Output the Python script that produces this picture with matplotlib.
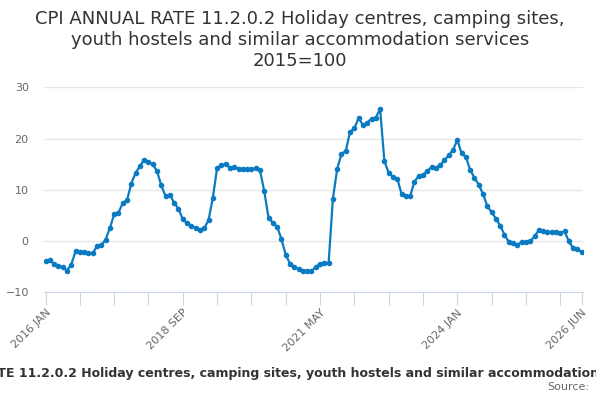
import numpy as np
import matplotlib
matplotlib.use('Agg')
import matplotlib.pyplot as plt
from matplotlib.transforms import Bbox, TransformedBbox

# Monthly annual rate, 2016 JAN .. 2026 JUN (126 months)
rate = [
    -3.9, -3.7, -4.5, -4.8, -5.1, -5.75, -4.6, -2.0, -2.1, -2.1,
    -2.3, -2.4, -1.0, -0.85, 0.3, 2.5, 5.2, 5.5, 7.4, 8.0,
    11.2, 13.3, 14.6, 15.9, 15.4, 15.0, 13.6, 10.85, 8.7, 9.0,
    7.45, 6.3, 4.25, 3.5, 3.0, 2.5, 2.2, 2.5, 4.05, 8.4,
    14.2, 14.8, 15.0, 14.3, 14.5, 14.1, 14.05, 14.05, 14.05, 14.2,
    13.8, 9.7, 4.5, 3.6, 2.8, 0.4, -2.7, -4.4, -5.0, -5.5,
    -5.8, -5.9, -5.9, -5.0, -4.5, -4.2, -4.3, 8.3, 14.1, 17.0,
    17.6, 21.3, 22.0, 24.05, 22.6, 23.1, 23.9, 24.1, 25.75, 15.6,
    13.3, 12.5, 12.2, 9.2, 8.75, 8.75, 11.6, 12.7, 12.9, 13.7,
    14.4, 14.25, 14.8, 15.8, 16.7, 17.8, 19.7, 17.1, 16.4, 13.9,
    12.3, 11.0, 9.15, 6.8, 5.6, 4.4, 3.0, 1.25, -0.2, -0.3,
    -0.85, -0.1, -0.2, 0.0, 0.9, 2.15, 2.0, 1.7, 1.8, 1.7,
    1.55, 1.9, -0.05, -1.4, -1.55, -2.2,
]
months = ['JAN', 'FEB', 'MAR', 'APR', 'MAY', 'JUN',
          'JUL', 'AUG', 'SEP', 'OCT', 'NOV', 'DEC']
labels = [f'{2016 + i // 12} {months[i % 12]}' for i in range(len(rate))]
tick_idx = list(range(0, len(rate), 8)) + [len(rate) - 1]
label_idx = [0, 32, 64, 96, len(rate) - 1]

title = ('CPI ANNUAL RATE 11.2.0.2 Holiday centres, camping sites,\n'
         'youth hostels and similar accommodation services\n2015=100')
series_name = ('CPI ANNUAL RATE 11.2.0.2 Holiday centres, camping sites, '
               'youth hostels and similar accommodation services')

fig = plt.figure(figsize=(6, 4), dpi=100)
ax = fig.add_axes([44 / 600, 1 - 292.3 / 400, 539 / 600, 205 / 400])

x = np.arange(len(rate))
ax.plot(x, rate, color='#0a7bc2', linewidth=1.6, marker='o', markersize=3,
        zorder=3)

ax.set_ylim(-10, 30)
ax.set_yticks([-10, 0, 10, 20, 30])
ax.set_xlim(-0.35, len(rate) - 1 + 0.3)
ax.set_xticks(tick_idx)
ax.set_xticklabels([labels[i] if i in label_idx else '' for i in tick_idx],
                   rotation=45, ha='right', rotation_mode='anchor')

ax.grid(axis='y', color='#e6e6e6', linewidth=1)
ax.set_axisbelow(True)
for side in ['top', 'right', 'left']:
    ax.spines[side].set_visible(False)
ax.spines['bottom'].set_color('#ccd6eb')
ax.tick_params(axis='y', length=0, labelsize=8, labelcolor='#666666', pad=11)
ax.tick_params(axis='x', length=9, color='#ccd6eb', labelsize=8,
               labelcolor='#666666', pad=2)

fig.text(0.5, 0.975, title, ha='center', va='top', fontsize=13,
         color='#333333', linespacing=1.2)

# legend item is wider than the chart, so it gets clipped like the original
legend_txt = fig.text(-110 / 600, 0.065, series_name, ha='left', va='center',
                      fontsize=9.0, fontweight='bold', color='#333333')
legend_txt.set_clip_box(TransformedBbox(Bbox([[0, 0], [596 / 600, 1]]),
                                        fig.transFigure))
legend_txt.set_clip_on(True)

fig.text(0.982, 0.032, 'Source:', ha='right', va='center', fontsize=8,
         color='#666666')

fig.savefig('out.png', dpi=100)
